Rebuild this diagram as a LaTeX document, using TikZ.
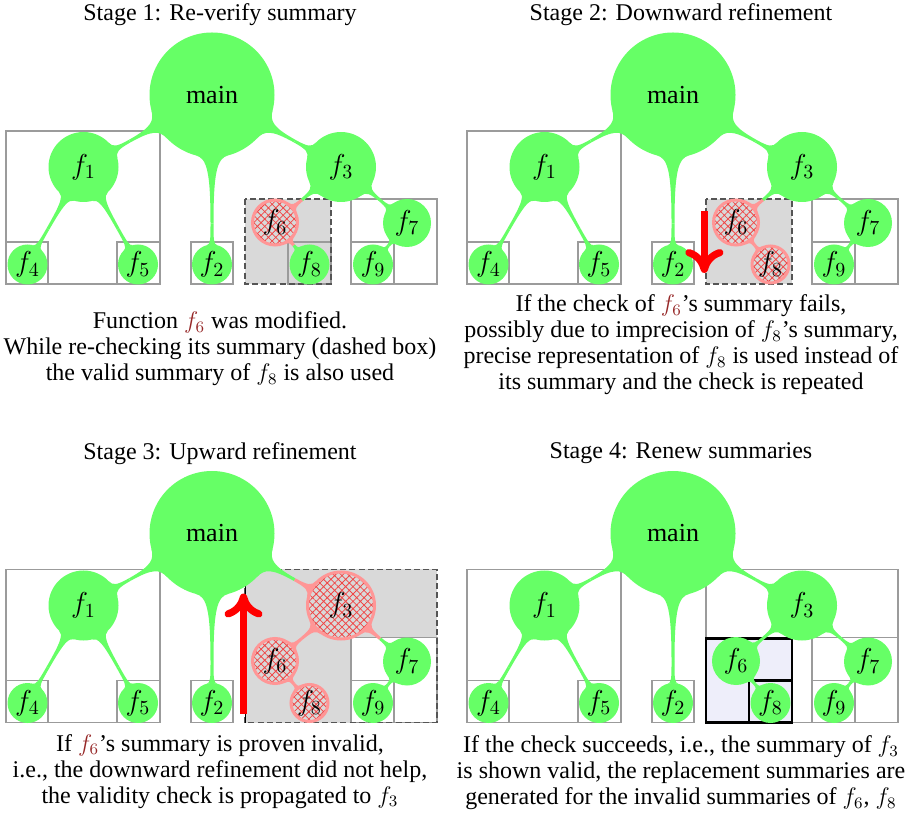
\documentclass[tikz,border=0pt]{standalone}
\usepackage[no-math]{fontspec}
\setmainfont{Liberation Serif}
\usetikzlibrary{calc,patterns.meta,arrows.meta}
\definecolor{fgreen}{RGB}{102,255,102}
\definecolor{ring}{RGB}{255,150,150}
\definecolor{hatchc}{RGB}{240,70,70}
\definecolor{boxgray}{RGB}{217,217,217}
\definecolor{lav}{RGB}{238,238,250}
\definecolor{dred}{RGB}{150,40,40}
\definecolor{framec}{RGB}{155,155,155}
\definecolor{dashc}{RGB}{85,85,85}
\pgfdeclarelayer{boxl}
\pgfdeclarelayer{linkl}
\pgfsetlayers{boxl,linkl,main}
\newcommand\al{15}
\newcommand\wst{0.75pt}
% half link: A rA B rB colour
\newcommand\hlink[5]{%
 \fill[#5] let \p1=(#1.center), \p2=(#3.center),
   \n1={atan2(\y2-\y1,\x2-\x1)},
   \n2={veclen(\x2-\x1,\y2-\y1)*#2/(#2+#4)},
   \n3={0.18*#2},
   \n4={0.8*(\n2-#2)} in
   ($(\p1)+(\n1+\al:#2)$) .. controls ($(\p1)+(\n1+\al:#2)+(\n1+\al-90:\n3)$) and ($(\p1)+(\n1:\n2)+(\n1+90:\wst)+(\n1+180:\n4)$) .. ($(\p1)+(\n1:\n2)+(\n1+90:\wst)$)
   -- ($(\p1)+(\n1:\n2)+(\n1-90:\wst)$)
   .. controls ($(\p1)+(\n1:\n2)+(\n1-90:\wst)+(\n1+180:\n4)$) and ($(\p1)+(\n1-\al:#2)+(\n1-\al+90:\n3)$) .. ($(\p1)+(\n1-\al:#2)$) -- cycle;}
% full link: A rA colA B rB colB
\newcommand\elink[6]{\hlink{#1}{#2}{#4}{#5}{#3}\hlink{#4}{#5}{#1}{#2}{#6}}
% tree: prefix, f3 style, f3 col, f6 style, f6 col, f8 style, f8 col
\newcommand\drawtree[7]{%
 \node[gn=62.5pt, font=\fontsize{13}{14}\selectfont] (#1main) at (212,95) {main};
 \node[gn=35pt] (#1f1) at (83.5,167) {$f_1$};
 \node[#2=35pt] (#1f3) at (341,167) {$f_3$};
 \node[gn=20pt] (#1f2) at (212,264.5) {$f_2$};
 \node[gn=20pt] (#1f4) at (27.5,264.5) {$f_4$};
 \node[gn=20pt] (#1f5) at (138,264.5) {$f_5$};
 \node[#4=24pt] (#1f6) at (275,222.5) {$f_6$};
 \node[#6=20pt] (#1f8) at (309.5,264.5) {$f_8$};
 \node[gn=24pt] (#1f7) at (407,223) {$f_7$};
 \node[gn=20pt] (#1f9) at (373,264.5) {$f_9$};
 \begin{pgfonlayer}{linkl}
 \elink{#1main}{31.25pt}{fgreen}{#1f1}{17.5pt}{fgreen}
 \elink{#1main}{31.25pt}{fgreen}{#1f2}{10pt}{fgreen}
 \elink{#1main}{31.25pt}{fgreen}{#1f3}{17.5pt}{#3}
 \elink{#1f1}{17.5pt}{fgreen}{#1f4}{10pt}{fgreen}
 \elink{#1f1}{17.5pt}{fgreen}{#1f5}{10pt}{fgreen}
 \elink{#1f3}{17.5pt}{#3}{#1f6}{12pt}{#5}
 \elink{#1f3}{17.5pt}{#3}{#1f7}{12pt}{fgreen}
 \elink{#1f6}{12pt}{#5}{#1f8}{10pt}{#7}
 \elink{#1f7}{12pt}{fgreen}{#1f9}{10pt}{fgreen}
 \end{pgfonlayer}}
\newcommand\leftboxes{%
 \draw[framec] (6,131) rectangle (160,284);
 \draw[framec] (6,242) rectangle (48,284);
 \draw[framec] (117,242) rectangle (160,284);
 \draw[framec] (191,242) rectangle (233,284);}
\newcommand\rightboxes{%
 \draw[framec] (351,199) rectangle (437,284);
 \draw[framec] (351,242) rectangle (394,284);}
\begin{document}
\begin{tikzpicture}[x=0.5pt,y=-0.5pt,
  font=\fontsize{12}{13}\selectfont,
  gn/.style={circle,fill=fgreen,inner sep=0pt,minimum size=#1,font=\fontsize{14}{15}\selectfont},
  hn/.style={circle,inner sep=0pt,draw=ring,line width=1.5pt,minimum size=#1-1.5pt,font=\fontsize{14}{15}\selectfont,
    preaction={fill=boxgray},
    preaction={pattern={Hatch[angle=45,distance=2.6pt,line width=0.4pt]},pattern color=hatchc}},
  framec/.style={draw=framec,line width=0.6pt},
  dashbox/.style={draw=dashc,line width=0.7pt,dash pattern=on 3pt off 1.6pt},
  thickbox/.style={draw=black,line width=1.1pt,fill=lav},
  redarrow/.style={red,line width=3.6pt,-{To[length=12pt,width=19pt]}},
  caption/.style={align=center},
  ttl/.style={}]
\useasboundingbox (0,0) rectangle (909,822);
% ---------- Stage 1 ----------
\begin{scope}
 \node[ttl] (t1) at (220,15) {Stage 1: Re-verify summary};
 \drawtree{a}{gn}{fgreen}{hn}{ring}{gn}{fgreen}
 \begin{pgfonlayer}{boxl}
  \fill[boxgray] (245,199) rectangle (331,284);
  \leftboxes
  \draw[framec] (288,242) rectangle (331,284);
  \rightboxes
  \draw[dashbox] (245,199) rectangle (331,284);
 \end{pgfonlayer}
 \node[caption] (c1) at (220,349) {Function {\color{dred}$f_6$} was modified.\\While re-checking its summary (dashed box)\\the valid summary of $f_8$ is also used};
\end{scope}
% ---------- Stage 2 ----------
\begin{scope}[shift={(461,0)}]
 \node[ttl] (t2) at (220,15) {Stage 2: Downward refinement};
 \drawtree{b}{gn}{fgreen}{hn}{ring}{hn}{ring}
 \begin{pgfonlayer}{boxl}
  \fill[boxgray] (245,199) rectangle (331,284);
  \leftboxes
  \rightboxes
  \draw[dashbox] (245,199) rectangle (331,284);
 \end{pgfonlayer}
 \coordinate (b-a1) at (243.3,211);
 \coordinate (b-a2) at (243.3,273);
 \draw[redarrow] (b-a1) -- (b-a2);
 \node[caption] (c2) at (220,345) {If the check of {\color{dred}$f_6$}'s summary fails,\\possibly due to imprecision of $f_8$'s summary,\\precise representation of $f_8$ is used instead of\\its summary and the check is repeated};
\end{scope}
% ---------- Stage 3 ----------
\begin{scope}[shift={(0,438.5)}]
 \node[ttl] (t3) at (220,15) {Stage 3: Upward refinement};
 \drawtree{c}{hn}{ring}{hn}{ring}{hn}{ring}
 \begin{pgfonlayer}{boxl}
  \fill[boxgray] (245,131) rectangle (437,284);
  \leftboxes
  \fill[white] (351,199) rectangle (437,284);
  \rightboxes
  \draw[dashbox] (245,131) rectangle (437,284);
  \draw[black,line width=0.5pt] (245,131) -- (245,284);
 \end{pgfonlayer}
 \coordinate (c-a1) at (243.5,275);
 \coordinate (c-a2) at (243.5,155);
 \draw[redarrow] (c-a1) -- (c-a2);
 \node[caption] (c3) at (220,333) {If {\color{dred}$f_6$}'s summary is proven invalid,\\i.e., the downward refinement did not help,\\the validity check is propagated to $f_3$};
\end{scope}
% ---------- Stage 4 ----------
\begin{scope}[shift={(461,438.5)}]
 \node[ttl] (t4) at (220,15) {Stage 4: Renew summaries};
 \drawtree{d}{gn}{fgreen}{gn}{fgreen}{gn}{fgreen}
 \begin{pgfonlayer}{boxl}
  \leftboxes
  \draw[framec] (245,131) rectangle (437,284);
  \rightboxes
  \draw[thickbox] (245,200) rectangle (331,284);
  \draw[thickbox] (288,242) rectangle (331,284);
 \end{pgfonlayer}
 \node[caption] (c4) at (220,334.5) {If the check succeeds, i.e., the summary of $f_3$\\is shown valid, the replacement summaries are\\generated for the invalid summaries of $f_6$, $f_8$};
\end{scope}
\end{tikzpicture}
\end{document}
